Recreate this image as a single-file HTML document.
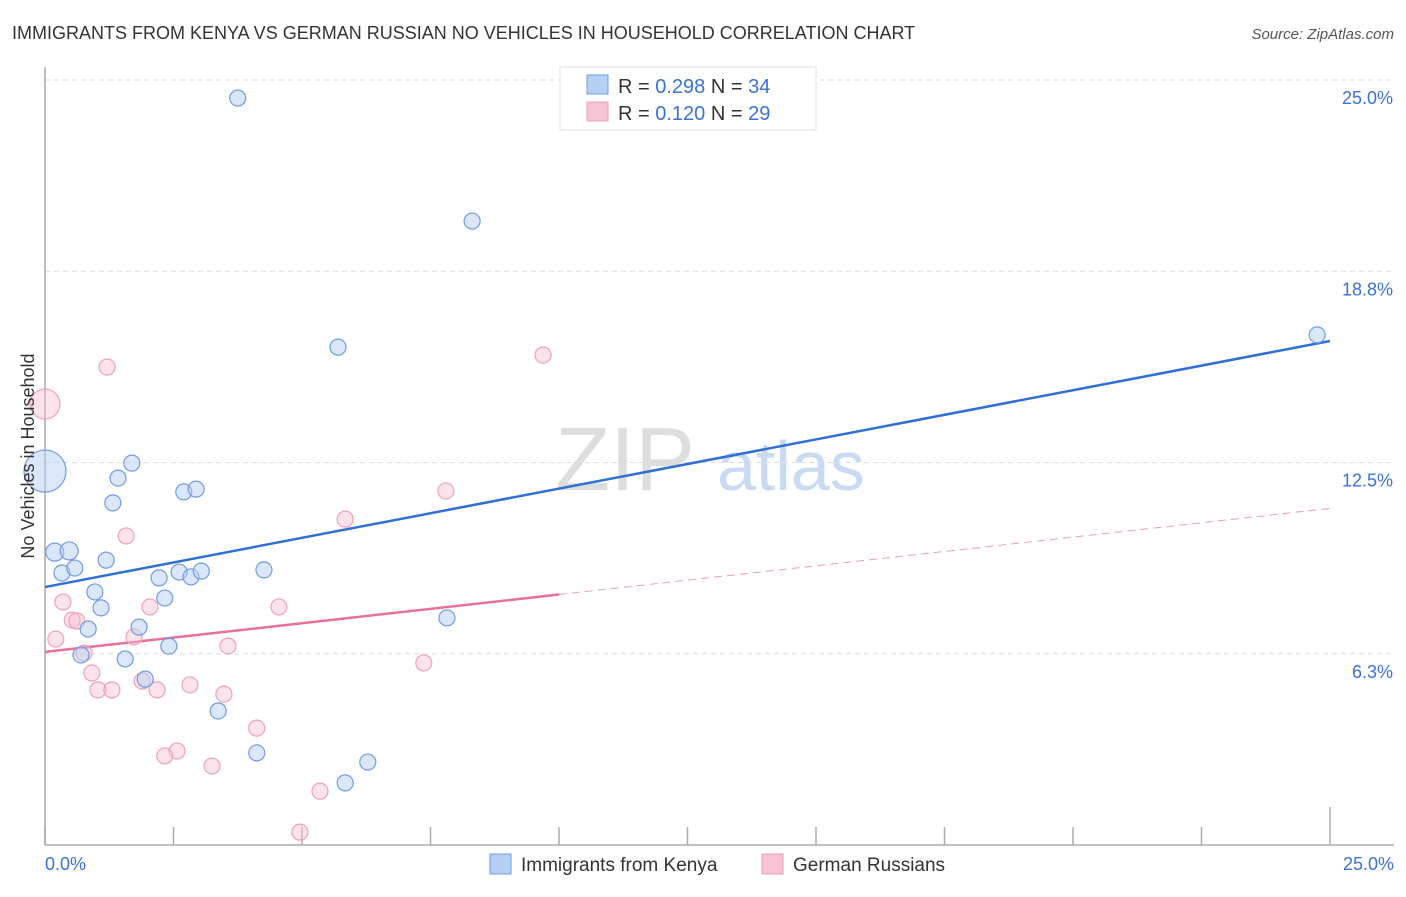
<!DOCTYPE html>
<html><head><meta charset="utf-8"><style>
body{margin:0;background:#fff;font-family:"Liberation Sans",sans-serif;}
svg text{font-family:"Liberation Sans",sans-serif;}
</style></head><body>
<svg id="chart" width="1406" height="892" viewBox="0 0 1406 892" xmlns="http://www.w3.org/2000/svg">
<text x="12" y="39" font-size="18" fill="#333">IMMIGRANTS FROM KENYA VS GERMAN RUSSIAN NO VEHICLES IN HOUSEHOLD CORRELATION CHART</text>
<text x="1394" y="39" font-size="15" fill="#555" text-anchor="end" font-style="italic">Source: ZipAtlas.com</text>
<g>
<text x="555" y="490" font-size="90" fill="#ddd" font-family="Liberation Serif">ZIP</text>
<text x="717" y="490" font-size="70" fill="#c8dbf3">atlas</text>
</g>
<g id="grid"></g>
<g id="axes"></g>
<g id="lines"></g>
<g id="points"></g>
<text transform="translate(34,456) rotate(-90)" font-size="18" fill="#333" text-anchor="middle">No Vehicles in Household</text>
<g>
<rect x="560" y="67" width="256" height="63" fill="#fff" stroke="#ddd"/>
<rect x="587" y="75" width="21" height="19" fill="#b6d0f5" stroke="#6f9be0"/>
<rect x="587" y="102" width="21" height="19" fill="#f8c3d4" stroke="#ee9fba"/>
<text x="618" y="93" font-size="20" fill="#333">R = <tspan fill="#3a72d6">0.298</tspan>   N = <tspan fill="#3a72d6">34</tspan></text>
<text x="618" y="120" font-size="20" fill="#333">R =  <tspan fill="#3a72d6">0.120</tspan>   N = <tspan fill="#3a72d6">29</tspan></text>
</g>
<g>
<rect x="490" y="854" width="21" height="20" fill="#b6d0f5" stroke="#6f9be0"/>
<text x="521" y="871" font-size="19" fill="#333">Immigrants from Kenya</text>
<rect x="762" y="854" width="21" height="20" fill="#f8c3d4" stroke="#ee9fba"/>
<text x="793" y="871" font-size="19" fill="#333">German Russians</text>
</g>
</svg>
<script>
const yTicks=[25,18.75,12.5,6.25];
const yTickLabels=["25.0%","18.8%","12.5%","6.3%"];
const xEndLabels=["0.0%","25.0%"];
const blueX=[3.75,8.31,5.70,24.75,0,1.69,1.42,1.32,2.70,2.94,0.19,0.47,0.33,0.58,1.19,2.22,2.61,2.84,3.04,4.26,0.97,2.33,1.09,0.84,1.83,2.41,7.82,0.70,1.56,1.95,3.37,4.12,6.28,5.84];
const blueY=[24.41,20.39,16.27,16.67,12.22,12.48,11.99,11.18,11.54,11.63,9.57,9.61,8.89,9.05,9.31,8.73,8.92,8.76,8.95,8.99,8.27,8.07,7.75,7.06,7.12,6.50,7.42,6.21,6.08,5.42,4.38,3.01,2.71,2.03];
const blueR=[8,8,8,8,21,8,8,8,8,8,9,9,8,8,8,8,8,8,8,8,8,8,8,8,8,8,8,8,8,8,8,8,8,8];
const pinkX=[0,1.21,9.69,7.80,5.84,1.58,0.35,2.04,4.55,0.53,0.62,0.21,1.73,0.76,3.56,0.91,1.03,1.30,1.89,2.18,2.82,3.48,7.37,4.12,2.57,2.33,3.25,5.35,4.96];
const pinkY=[14.41,15.62,16.01,11.57,10.65,10.10,7.94,7.78,7.78,7.35,7.32,6.73,6.80,6.27,6.50,5.62,5.07,5.07,5.36,5.07,5.23,4.93,5.95,3.82,3.07,2.91,2.58,1.76,0.42];
const pinkR=[15,8,8,8,8,8,8,8,8,8,8,8,8,8,8,8,8,8,8,8,8,8,8,8,8,8,8,8,8];
const blueTrend=[8.43,16.47];
const pinkTrend=[6.31,11.0];
const pinkSolidEnd=10;
const X0=45,X1=1330,Y0=845,Ytop=80;
const sx=v=>X0+(X1-X0)*v/25;
const sy=v=>Y0-(Y0-Ytop)*v/25;
const NS="http://www.w3.org/2000/svg";
function mk(tag,attrs,parent){const e=document.createElementNS(NS,tag);for(const k in attrs)e.setAttribute(k,attrs[k]);parent.appendChild(e);return e;}
const grid=document.getElementById('grid'),axes=document.getElementById('axes'),lines=document.getElementById('lines'),pts=document.getElementById('points');
yTicks.forEach((t,i)=>{
  const l=mk('line',{x1:X0,x2:1394,y1:sy(t),y2:sy(t),stroke:'#ddd','stroke-dasharray':'5,4'},grid);
  
  
  const tx=mk('text',{x:1393,y:sy(t)+24,'font-size':18,fill:'#3a72d6','text-anchor':'end'},axes);
  tx.textContent=yTickLabels[i];
  
  
});
const ya=mk('line',{x1:X0,x2:X0,y1:67,y2:Y0,stroke:'#aaa','stroke-width':1.5},axes);


const xa=mk('line',{x1:X0,x2:1394,y1:Y0,y2:Y0,stroke:'#aaa','stroke-width':1.5},axes);


for(let i=0;i<=10;i++){
  const v=i*2.5;
  const tk=mk('line',{x1:sx(v),x2:sx(v),y1:i==10?807:827,y2:Y0,stroke:'#aaa','stroke-width':1.5},axes);
  
  
}
[[0,'start',45],[25,'end',1394]].forEach((d,i)=>{
  const tx=mk('text',{x:d[2],y:870,'font-size':18,fill:'#3a72d6','text-anchor':d[1]},axes);
  tx.textContent=xEndLabels[i];
  
  
});
const pinkAt=v=>pinkTrend[0]+(pinkTrend[1]-pinkTrend[0])*v/25;
const bl=mk('line',{x1:sx(0),y1:sy(blueTrend[0]),x2:sx(25),y2:sy(blueTrend[1]),stroke:'#2f6fd6','stroke-width':2.5},lines);


const pl=mk('line',{x1:sx(0),y1:sy(pinkTrend[0]),x2:sx(pinkSolidEnd),y2:sy(pinkAt(pinkSolidEnd)),stroke:'#e8709a','stroke-width':2.5},lines);


const pd=mk('line',{x1:sx(pinkSolidEnd),y1:sy(pinkAt(pinkSolidEnd)),x2:sx(25),y2:sy(pinkTrend[1]),stroke:'#e8a0b8','stroke-width':1,'stroke-dasharray':'8,5'},lines);


pinkX.forEach((x,i)=>{
  const c=mk('circle',{cx:sx(x),cy:sy(pinkY[i]),r:pinkR[i],fill:'rgba(248,190,210,0.45)',stroke:'#eea0bb','stroke-width':1.2},pts);
  
  
});
blueX.forEach((x,i)=>{
  const c=mk('circle',{cx:sx(x),cy:sy(blueY[i]),r:blueR[i],fill:'rgba(182,208,245,0.5)',stroke:'#6f9be0','stroke-width':1.2},pts);
  
  
});
</script>
</body></html>
